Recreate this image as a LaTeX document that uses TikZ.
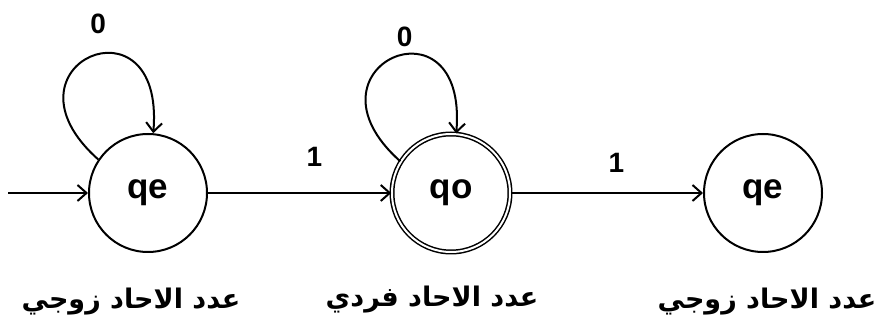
\documentclass[tikz,border=0pt]{standalone}
\usepackage{fontspec}
\setmainfont{Liberation Sans}
\newfontfamily\arabicfont[Script=Arabic]{DejaVu Sans}
\TeXXeTstate=1
\usetikzlibrary{arrows.meta,positioning}
\tikzset{
  statenode/.style={
    circle, draw=black, line width=2pt, minimum size=118pt,
    inner sep=0pt, font=\fontsize{35}{35}\selectfont\bfseries
  },
  acceptnode/.style={
    statenode, double, double distance=2pt, line width=1.5pt
  },
  trans/.style={
    -{Straight Barb[length=9pt,width=16pt]}, line width=2pt
  },
  edgelbl/.style={
    inner sep=0pt, font=\fontsize{28}{28}\selectfont\bfseries
  },
  arablbl/.style={
    inner sep=0pt, font=\fontsize{27}{27}\selectfont\arabicfont\bfseries
  },
}
\begin{document}
\begin{tikzpicture}[x=1pt,y=1pt]
\useasboundingbox (0,0) rectangle (878,326);

% the three states
\node[statenode] (qeA) at (148,133) {qe};
\node[acceptnode] (qo) at (451,133) {qo};
\node[statenode] (qeB) at (763,133) {qe};

% start arrow
\coordinate (start) at (8,133);
\draw[trans] (start) -- (qeA);

% loops on 0
\draw[trans] (qeA.146) .. controls +(-107,95) and +(12,143) .. (qeA.85)
  node[edgelbl, pos=0.5, above=22pt, xshift=8pt] {0};
\draw[trans] (qo.148) .. controls +(-107,95) and +(12,143) .. (qo.85)
  node[edgelbl, pos=0.5, above=10pt, xshift=12pt] {0};

% moves on 1
\draw[trans] (qeA) -- node[edgelbl, pos=0.58, above=25pt] {1} (qo);
\draw[trans] (qo) -- node[edgelbl, pos=0.55, above=19pt] {1} (qeB);

% what each state means
\node[arablbl] (txtA) at (131,24) {\beginR عدد الاحاد زوجي\endR};
\node[arablbl] (txtB) at (432,26) {\beginR عدد الاحاد فردي\endR};
\node[arablbl] (txtC) at (767,24) {\beginR عدد الاحاد زوجي\endR};

\end{tikzpicture}
\end{document}
